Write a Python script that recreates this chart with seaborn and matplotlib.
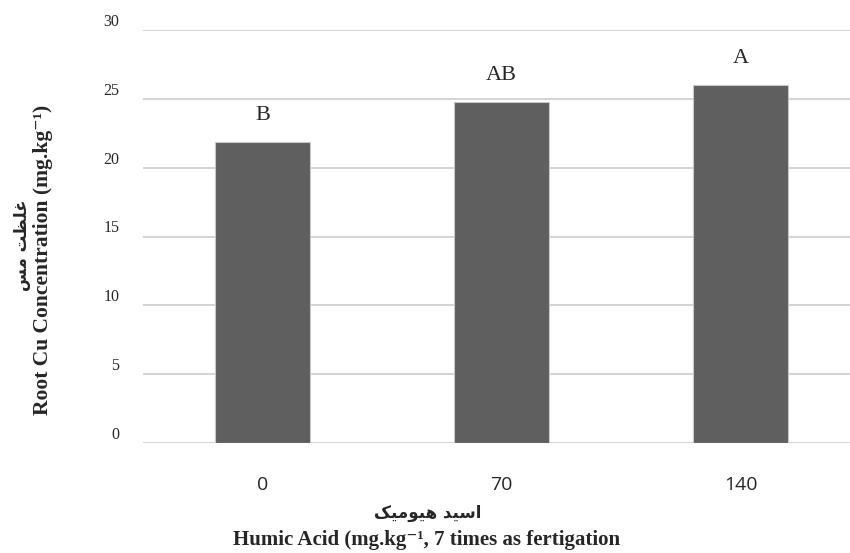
import pandas as pd
import matplotlib
matplotlib.use("Agg")
import matplotlib.pyplot as plt
import seaborn as sns

# data
doses = ["0", "70", "140"]
cu_root = [21.9, 24.8, 26.0]
letters = ["B", "AB", "A"]
y_ticks = [0, 5, 10, 15, 20, 25, 30]

# Persian labels, written as shaped presentation forms in visual order
ylabel_fa = "\uFEB2\uFEE3 \uFE96\uFEC8\uFEE0\uFECF"          # غلظت مس
xlabel_fa = "\uFB8F\uFBFF\uFEE3\uFEEE\uFBFF\uFEEB \uFEAA\uFBFF\uFEB3\uFE8D"  # اسید هیومیک
ylabel_en = "Root Cu Concentration (mg.kg\u207B\u00B9)"
xlabel_en = "Humic Acid (mg.kg\u207B\u00B9, 7 times as fertigation"


def main():
    sns.set_style("white")
    plt.rcParams["font.family"] = ["Liberation Serif", "DejaVu Sans"]

    df = pd.DataFrame({"dose": doses, "cu": cu_root})

    fig = plt.figure(figsize=(8.5, 5.53), dpi=100)
    ax = fig.add_axes([143 / 850, 110 / 553, 717 / 850, 413 / 553])

    sns.barplot(data=df, x="dose", y="cu", order=doses, color="#5f5f5f",
                saturation=1, width=0.4, edgecolor="#c8c8c8", linewidth=0.8,
                ax=ax, zorder=3)

    ax.bar_label(ax.containers[0], labels=letters, padding=12,
                 fontsize=16, family="Liberation Serif")

    ax.set_ylim(0, 30)
    ax.set_xlim(-0.5, 2.5)
    ax.set_yticks(y_ticks)
    ax.yaxis.grid(True, color="#d0d0d0", linewidth=1.3, zorder=0)
    ax.set_axisbelow(True)
    sns.despine(ax=ax, left=True, bottom=True)
    ax.tick_params(axis="both", length=0)
    ax.tick_params(axis="y", pad=17, labelsize=11.5)
    ax.tick_params(axis="x", pad=24)
    for lab in ax.get_yticklabels():
        lab.set_va("bottom")
    for lab in ax.get_xticklabels():
        lab.set_family(["Open Sans", "DejaVu Sans"])
        lab.set_fontsize(14)
    ax.set_xlabel("")
    ax.set_ylabel("")

    # axis titles (Persian + English)
    fig.text(22 / 850, 1 - 245 / 553, ylabel_fa, rotation=90, ha="center",
             va="center", fontsize=12, fontweight="bold", family=["DejaVu Sans"])
    fig.text(43 / 850, 1 - 260 / 553, ylabel_en, rotation=90, ha="center",
             va="center", fontsize=15.5, fontweight="bold",
             family=["Liberation Serif", "DejaVu Serif"])
    fig.text(428 / 850, 1 - 513 / 553, xlabel_fa, ha="center", va="center",
             fontsize=12, fontweight="bold", family=["DejaVu Sans"])
    fig.text(427 / 850, 1 - 540 / 553, xlabel_en, ha="center", va="center",
             fontsize=15, fontweight="bold",
             family=["Liberation Serif", "DejaVu Serif"])

    fig.savefig("out.png", dpi=100)


if __name__ == "__main__":
    main()
